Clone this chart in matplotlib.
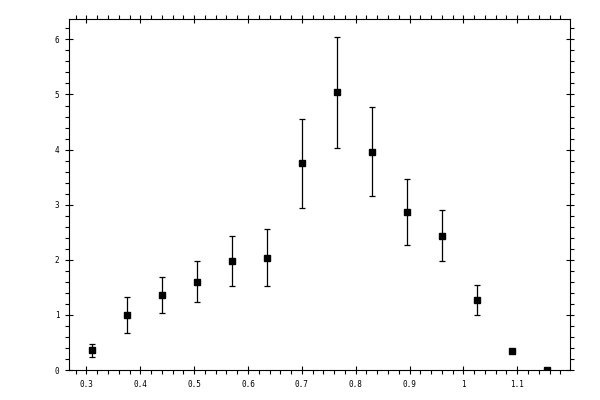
import matplotlib
matplotlib.use('Agg')
import matplotlib.pyplot as plt
from matplotlib.ticker import MultipleLocator

# measured points
mass = [0.311, 0.376, 0.441, 0.506, 0.571, 0.636, 0.701,
        0.766, 0.831, 0.896, 0.961, 1.026, 1.091, 1.156]
xsec = [0.36, 1.00, 1.36, 1.60, 1.98, 2.04, 3.75,
        5.04, 3.96, 2.87, 2.44, 1.27, 0.35, 0.00]
err = [0.12, 0.33, 0.33, 0.37, 0.45, 0.52, 0.81,
       1.01, 0.81, 0.60, 0.46, 0.27, 0.03, 0.00]

fig = plt.figure(figsize=(6, 4), dpi=100)
ax = fig.add_axes([0.115, 0.075, 0.835, 0.8775])

ax.errorbar(mass, xsec, yerr=err, fmt='s', color='black', markersize=5,
            elinewidth=0.9, capsize=2.5, capthick=0.9)

ax.set_xlim(0.2675, 1.198)
ax.set_ylim(0, 6.37)

ax.xaxis.set_major_locator(MultipleLocator(0.1))
ax.xaxis.set_minor_locator(MultipleLocator(0.02))
ax.yaxis.set_major_locator(MultipleLocator(1))
ax.yaxis.set_minor_locator(MultipleLocator(0.2))

def fmt(v, pos):
    s = '%.1f' % v
    if s.endswith('.0'):
        s = s[:-2]
    return s

ax.xaxis.set_major_formatter(fmt)
ax.yaxis.set_major_formatter(fmt)

ax.tick_params(which='major', direction='inout', length=6, width=0.8,
               top=True, right=True, labelsize=5.5, pad=4)
ax.tick_params(which='minor', direction='out', length=3, width=0.8,
               top=True, right=True)
for lab in ax.get_xticklabels() + ax.get_yticklabels():
    lab.set_family('DejaVu Sans Mono')

for sp in ax.spines.values():
    sp.set_linewidth(0.8)

fig.savefig('out.png', dpi=100)
